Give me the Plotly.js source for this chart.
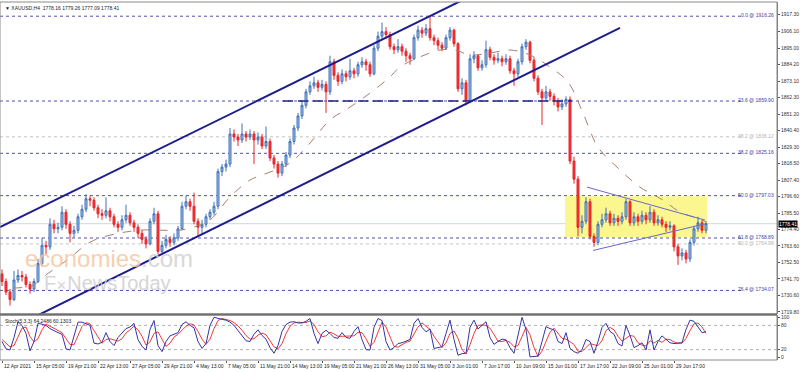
<!DOCTYPE html>
<html><head><meta charset="utf-8">
<script src="https://cdn.plot.ly/plotly-3.0.1.min.js"></script>
<style>html,body{margin:0;padding:0;background:#fff}#chart{width:800px;height:372px}</style>
</head><body><div id="chart"></div>
<script>
// ---- Data (XAUUSD) ----
const opens = [1745,1740,1733,1728,1741,1744,1743,1738,1735,1740,
1752,1764,1763,1778,1775,1776,1786,1778,1772,1774,
1783,1788,1795,1794,1789,1785,1784,1787,1783,1778,
1776,1781,1784,1779,1776,1772,1768,1765,1780,1785,
1760,1764,1768,1766,1769,1775,1790,1793,1790,1780,
1776,1778,1783,1786,1790,1813,1816,1818,1838,1836,
1834,1838,1836,1838,1834,1836,1830,1833,1822,1818,
1812,1818,1824,1833,1842,1850,1857,1866,1870,1872,
1869,1871,1866,1886,1877,1873,1878,1876,1880,1878,
1884,1886,1884,1878,1895,1903,1906,1904,1896,1894,
1896,1893,1890,1888,1902,1907,1905,1908,1902,1900,
1897,1895,1902,1907,1898,1868,1872,1860,1888,1890,
1882,1884,1894,1889,1887,1888,1886,1888,1880,1878,
1886,1896,1899,1887,1875,1866,1862,1866,1863,1860,
1856,1858,1861,1820,1808,1776,1780,1793,1770,1766,
1778,1781,1785,1779,1782,1780,1783,1793,1779,1783,
1780,1784,1781,1786,1779,1781,1778,1776,1777,1763,
1757,1759,1755,1766,1775,1779,1774];
const highs = [1748,1742,1735,1747,1748,1747,1745,1740,1742,1755,
1769,1767,1782,1781,1779,1790,1788,1780,1777,1785,
1791,1798,1797,1796,1791,1788,1796,1789,1785,1780,
1784,1791,1786,1781,1778,1774,1770,1782,1789,1787,
1767,1771,1770,1772,1777,1793,1797,1795,1799,1782,
1781,1785,1788,1793,1815,1818,1821,1842,1841,1838,
1845,1840,1841,1840,1839,1838,1843,1835,1824,1820,
1820,1826,1835,1844,1852,1860,1868,1873,1876,1874,
1874,1873,1890,1888,1879,1881,1880,1888,1882,1886,
1889,1888,1886,1897,1906,1912,1909,1906,1898,1901,
1898,1895,1892,1904,1910,1909,1911,1916.26,1904,1902,
1899,1904,1909,1908,1899,1875,1874,1891,1893,1891,
1887,1900,1896,1891,1892,1890,1891,1890,1882,1888,
1898,1901,1900,1889,1877,1868,1870,1868,1865,1862,
1861,1863,1863,1823,1810,1784,1796,1795,1772,1780,
1785,1789,1787,1785,1784,1786,1795,1794,1786,1785,
1787,1786,1790,1788,1784,1783,1780,1780,1778,1765,
1762,1761,1768,1777,1783,1781,1779.26];
const lows = [1737,1731,1724,1727,1739,1740,1736,1732,1733,1739,
1750,1758,1761,1772,1772,1774,1775,1766,1769,1772,
1781,1786,1790,1787,1782,1781,1782,1780,1776,1773,
1774,1779,1777,1773,1769,1765,1762,1764,1778,1758,
1758,1762,1763,1764,1767,1774,1788,1787,1778,1770,
1771,1776,1781,1784,1788,1810,1813,1816,1833,1830,
1832,1833,1834,1818,1831,1828,1828,1820,1815,1809,
1810,1816,1822,1831,1840,1848,1855,1864,1868,1866,
1867,1852,1864,1874,1870,1871,1873,1874,1875,1876,
1882,1880,1876,1877,1893,1901,1901,1894,1891,1892,
1890,1886,1884,1887,1900,1902,1903,1900,1897,1894,
1893,1894,1900,1896,1866,1864,1857,1859,1885,1880,
1880,1882,1887,1884,1885,1883,1884,1878,1870,1876,
1884,1894,1885,1873,1864,1844,1860,1860,1857,1853,
1854,1856,1818,1805,1770,1772,1778,1768,1763,1764,
1776,1779,1777,1777,1777,1778,1781,1777,1777,1777,
1778,1778,1779,1777,1777,1776,1773,1774,1760,1751,
1754,1752,1753,1764,1773,1772,1772];
const closes = [1740,1733,1728,1741,1744,1743,1738,1735,1740,1752,
1764,1763,1778,1775,1776,1786,1778,1772,1774,1783,
1788,1795,1794,1789,1785,1784,1787,1783,1778,1776,
1781,1784,1779,1776,1772,1768,1765,1780,1785,1760,
1764,1768,1766,1769,1775,1790,1793,1790,1780,1776,
1778,1783,1786,1790,1813,1816,1818,1838,1836,1834,
1838,1836,1838,1834,1836,1830,1833,1822,1818,1812,
1818,1824,1833,1842,1850,1857,1866,1870,1872,1869,
1871,1866,1886,1877,1873,1878,1876,1880,1878,1884,
1886,1884,1878,1895,1903,1906,1904,1896,1894,1896,
1893,1890,1888,1902,1907,1905,1908,1902,1900,1897,
1895,1902,1907,1898,1868,1872,1860,1888,1890,1882,
1884,1894,1889,1887,1888,1886,1888,1880,1878,1886,
1896,1899,1887,1875,1866,1862,1866,1863,1860,1856,
1858,1861,1820,1808,1776,1780,1793,1770,1766,1778,
1781,1785,1779,1782,1780,1783,1793,1779,1783,1780,
1784,1781,1786,1779,1781,1778,1776,1777,1763,1757,
1759,1755,1766,1775,1779,1774,1778.41];
const stochK = [40,22,19,50,89,80,60,17,40,85,
83,80,72,66,62,58,22,19,55,88,
88,84,80,36,34,38,62,40,30,50,
60,72,76,85,45,28,19,70,92,30,
15,40,54,58,62,82,89,80,74,40,
23,35,80,100,97,95,93,88,80,68,
55,42,40,58,69,55,46,25,11,30,
65,82,88,89,86,86,90,97,60,35,
60,68,60,50,48,62,50,48,65,77,
45,20,19,75,97,92,40,19,25,35,
37,42,45,85,97,75,64,71,23,25,
27,60,93,45,6,10,11,75,93,71,
80,89,50,33,40,46,44,25,11,55,
100,70,2,3,4,40,77,72,69,40,
35,62,23,15,11,20,45,40,11,40,
75,85,65,58,35,29,80,55,25,30,
37,19,69,19,40,54,45,37,35,36,
37,70,93,90,75,62,64.2486];
const stochD = [45,35,27,30,53,73,76,52,39,47,
69,83,78,73,67,62,47,33,32,54,
77,87,84,67,50,36,45,47,44,41,
47,61,69,78,69,53,31,39,60,64,
46,28,36,51,58,67,78,84,81,65,
46,33,46,72,92,97,95,92,87,79,
68,55,46,47,56,61,57,42,27,22,
35,59,78,86,88,87,87,91,82,64,
52,54,63,59,53,53,53,53,54,63,
62,47,28,38,64,88,76,50,28,26,
32,38,41,57,76,86,79,70,53,40,
25,37,60,66,48,20,9,32,60,80,
81,80,73,57,41,40,43,38,27,30,
55,75,57,25,3,16,40,63,73,60,
48,46,40,33,16,15,25,35,32,30,
42,67,75,69,53,41,48,55,53,37,
31,29,42,36,43,38,46,45,39,36,
36,48,67,84,86,76,60.1303];
const maIdx = [2.75,7.75,10.25,16.25,22,27,34.5,39.5,44.5,49.5,52,57,62,67,72,77,82,87,92,97,99.5,104.5,109.5,113.25,117,122,127,132,137,141.5,145.25,149,153.75,159.5,165.25,169.5,173.75,176.25];
const maVal = [1735.6,1737.5,1742.9,1754.2,1766.1,1770.8,1774.1,1774.1,1774.1,1777.5,1780.8,1796.1,1807.4,1812.7,1818.7,1832.0,1847.3,1855.9,1865.2,1875.9,1882.5,1889.2,1893.8,1893.8,1890.5,1891.8,1893.8,1890.5,1882.5,1872.5,1851.9,1829.3,1816.0,1802.7,1794.1,1786.1,1782.1,1779.4];
const priceTicks = [1917.30,1906.10,1895.00,1884.20,1873.10,1862.30,1851.20,1840.40,1829.30,1818.50,1807.40,1796.60,1785.50,1774.40,1763.60,1752.50,1741.70,1730.60,1719.80];
const stochTicks = [100,80,20,0];
const stochLevels = [80,20];
const dateLabels = ['12 Apr 2021','15 Apr 05:00','19 Apr 21:00','22 Apr 13:00','27 Apr 05:00','29 Apr 21:00','4 May 13:00','7 May 05:00','11 May 21:00','14 May 13:00','19 May 05:00','21 May 21:00','26 May 13:00','31 May 05:00','3 Jun 01:00','7 Jun 17:00','10 Jun 09:00','15 Jun 01:00','17 Jun 17:00','22 Jun 09:00','25 Jun 01:00','29 Jun 17:00'];
const dateLabelIdx = [0,8,16,24,32,40,48,56,64,72,80,88,96,104,112,120,128,136,144,152,160,168];
const fibNames = ['0.0','23.6','38.2','50.0','61.8','76.4'];
const fibLevels = [1916.26,1859.90,1825.16,1797.03,1768.89,1734.07];
const fib2Names = ['38.2','50.0'];
const fib2Levels = [1836.12,1764.98];
const lastPrice = 1778.41;
const headerText = '\u25BC XAUUSD,H4  1778.16 1779.26 1777.09 1778.41';
const stochText = 'Stoch(5,3,3) 64.2486 60.1303';
const upperChIdx = [-0.5,115.25], upperChPrice = [1776.1,1927.1];
const lowerChIdx = [9,154.5], lowerChPrice = [1717.6,1908.5];
const triUpIdx = [146.25,175.75], triUpPrice = [1802.7,1780.8];
const triLoIdx = [147.75,176.25], triLoPrice = [1760.6,1778.6];
const supIdx = [70.25,142.5], supPrice = [1859.9,1859.9];
const boxIdx = [140.75,176.25], boxPrice = [1769.5,1796.7];

// ---- Build ----
const idx = closes.map((_, i) => i);
const F = 'Liberation Sans, Arial, sans-serif';
const FS = 5;
const traces = [
  {type:'candlestick', x:idx, open:opens, high:highs, low:lows, close:closes, xaxis:'x', yaxis:'y',
   increasing:{line:{color:'#3f70b8',width:1}, fillcolor:'#a9c4e8'},
   decreasing:{line:{color:'#e5262b',width:1}, fillcolor:'#f0383a'},
   whiskerwidth:0, hoverinfo:'skip', showlegend:false},
  {type:'scatter', mode:'lines', x:maIdx, y:maVal, line:{color:'#a7806f', width:1, dash:'dash', shape:'spline'}, hoverinfo:'skip'},
  {type:'scatter', mode:'lines', x:upperChIdx, y:upperChPrice, line:{color:'#1d1d8c', width:2}, hoverinfo:'skip'},
  {type:'scatter', mode:'lines', x:lowerChIdx, y:lowerChPrice, line:{color:'#1d1d8c', width:2}, hoverinfo:'skip'},
  {type:'scatter', mode:'lines', x:supIdx, y:supPrice, line:{color:'#23238e', width:1.5, dash:'10px,5px'}, hoverinfo:'skip'},
  {type:'scatter', mode:'lines', x:triUpIdx, y:triUpPrice, line:{color:'#6a68c8', width:1}, hoverinfo:'skip'},
  {type:'scatter', mode:'lines', x:triLoIdx, y:triLoPrice, line:{color:'#6a68c8', width:1}, hoverinfo:'skip'},
  {type:'scatter', mode:'lines', x:idx, y:stochD, xaxis:'x', yaxis:'y2', line:{color:'#f03a3a', width:1}, hoverinfo:'skip'},
  {type:'scatter', mode:'lines', x:idx, y:stochK, xaxis:'x', yaxis:'y2', line:{color:'#3434a8', width:1}, hoverinfo:'skip'}
];

const shapes = [];
const annotations = [];
shapes.push({type:'rect', xref:'x', yref:'y', x0:boxIdx[0], x1:boxIdx[1], y0:boxPrice[0], y1:boxPrice[1], fillcolor:'#fbf68e', line:{width:0}, layer:'below'});
shapes.push({type:'line', xref:'paper', yref:'y', x0:0, x1:1, y0:lastPrice, y1:lastPrice, line:{color:'#c3dde0', width:1}, layer:'below'});
fibLevels.forEach((v, k) => {
  shapes.push({type:'line', xref:'paper', yref:'y', x0:0, x1:0.955, y0:v, y1:v, line:{color:'#5050aa', width:1, dash:'dot'}, layer:'below'});
  annotations.push({xref:'paper', yref:'y', x:0.999, y:v, xanchor:'right', yanchor:'middle', yshift:1, showarrow:false,
    text: fibNames[k] + ' @ ' + v.toFixed(2), font:{family:F, size:FS, color:'#3c3ca8'}});
});
fib2Levels.forEach((v, k) => {
  shapes.push({type:'line', xref:'paper', yref:'y', x0:0, x1:0.955, y0:v, y1:v, line:{color:'#c4c4c4', width:1, dash:'dot'}, layer:'below'});
  annotations.push({xref:'paper', yref:'y', x:0.999, y:v, xanchor:'right', yanchor:'middle', yshift:1, showarrow:false,
    text: fib2Names[k] + ' @ ' + v.toFixed(2), font:{family:F, size:FS, color:'#b4b4b4'}});
});
stochLevels.forEach(v => shapes.push({type:'line', xref:'paper', yref:'y2', x0:0, x1:1, y0:v, y1:v, line:{color:'#b0b0b0', width:1, dash:'dot'}, layer:'below'}));
shapes.push({type:'rect', xref:'paper', yref:'paper', x0:0, x1:1, y0:0.1285, y1:1, line:{color:'#8a8a8a', width:1}, fillcolor:'rgba(0,0,0,0)'});
shapes.push({type:'rect', xref:'paper', yref:'paper', x0:0, x1:1, y0:0, y1:0.1257, line:{color:'#8a8a8a', width:1}, fillcolor:'rgba(0,0,0,0)'});
shapes.push({type:'line', xref:'paper', yref:'paper', x0:0, x1:1, y0:0.127, y1:0.127, line:{color:'#6e6e6e', width:2}});

annotations.push({xref:'paper', yref:'y', x:1, y:lastPrice, xanchor:'left', yanchor:'middle', showarrow:false, text:lastPrice.toFixed(2),
  bgcolor:'#000', borderpad:0, font:{family:F, size:FS, color:'#fff'}, xshift:1});
annotations.push({xref:'paper', yref:'paper', x:0.004, y:0.996, xanchor:'left', yanchor:'top', showarrow:false, text:headerText, font:{family:F, size:FS, color:'#222'}});
annotations.push({xref:'paper', yref:'paper', x:0.004, y:0.124, xanchor:'left', yanchor:'top', showarrow:false, text:stochText, font:{family:F, size:FS, color:'#222'}});
annotations.push({xref:'paper', yref:'paper', x:0.030, y:0.284, xanchor:'left', yanchor:'middle', showarrow:false,
  text:'<span style="color:#f7c7a2">economies</span><span style="color:#d2d2d2">.com</span>', font:{family:F, size:24}, opacity:0.85});
annotations.push({xref:'paper', yref:'paper', x:0.054, y:0.214, xanchor:'left', yanchor:'middle', showarrow:false,
  text:'F<span style="font-size:13px">\u2715</span>NewsToday', font:{family:F, size:20, color:'#cfcfcf'}, opacity:0.85});
dateLabels.forEach((t, k) => annotations.push({xref:'x', yref:'paper', x:dateLabelIdx[k], y:0, yanchor:'top', xanchor:'left', yshift:-1, showarrow:false, text:t, font:{family:F, size:FS, color:'#222'}}));

const layout = {
  width:800, height:372, margin:{l:0, r:23, t:2, b:12},
  paper_bgcolor:'#fff', plot_bgcolor:'#fff', showlegend:false, hovermode:false, dragmode:false,
  xaxis:{domain:[0,1], range:[-0.5,193.75], anchor:'y2', showgrid:false, zeroline:false, showline:false,
    tickmode:'array', tickvals:dateLabelIdx, showticklabels:false, ticks:'outside', ticklen:2, tickcolor:'#555',
    rangeslider:{visible:false}, fixedrange:true},
  yaxis:{domain:[0.1285,1], range:[1718.4,1925.7], side:'right', anchor:'x', showgrid:false, zeroline:false,
    showline:true, linecolor:'#7a7a7a', tickmode:'array', tickvals:priceTicks, ticktext:priceTicks.map(v=>v.toFixed(2)),
    ticks:'outside', ticklen:2, tickcolor:'#555', tickfont:{family:F, size:FS, color:'#333'}, automargin:false, fixedrange:true},
  yaxis2:{domain:[0,0.1257], range:[-5.7,105.7], side:'right', anchor:'x', showgrid:false, zeroline:false,
    showline:true, linecolor:'#7a7a7a', tickmode:'array', tickvals:stochTicks, ticktext:stochTicks.map(String),
    ticks:'outside', ticklen:2, tickcolor:'#555', tickfont:{family:F, size:FS, color:'#333'}, automargin:false, fixedrange:true},
  shapes:shapes, annotations:annotations
};
Plotly.newPlot('chart', traces, layout, {staticPlot:true, displayModeBar:false});
</script>
</body></html>
